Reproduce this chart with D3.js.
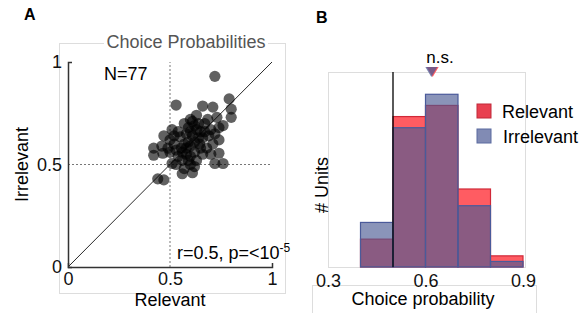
<!DOCTYPE html>
<html lang="en">
<head>
<meta charset="UTF-8">
<title>Choice Probabilities</title>
<script src="https://cdn.jsdelivr.net/npm/d3@7/dist/d3.min.js"></script>
<style>
body{margin:0;background:#fff}
svg text{font-family:"Liberation Sans",Arial,sans-serif}
</style>
</head>
<body>
<div id="grafica"></div>
<script>
// panel A: choice probability per unit (relevant, irrelevant)
relevant=[0.72,0.53,0.66,0.71,0.79,0.80,0.80,0.76,0.73,0.685,0.63,0.60,0.51,0.47,0.46,0.42,0.42,0.465,0.44,0.47,
	0.56,0.61,0.70,0.74,0.72,0.76,0.74,0.74,0.51,0.50,0.55,0.555,0.60,0.67,0.645,0.66,0.57,0.59,0.60,0.58,
	0.62,0.61,0.63,0.64,0.65,0.62,0.59,0.57,0.56,0.58,0.60,0.62,0.59,0.56,0.54,0.53,0.52,0.63,0.57,0.62,
	0.68,0.66,0.69,0.70,0.72,0.67,0.54,0.52,0.49,0.50,0.53,0.64,0.61,0.58,0.65,0.71,0.60]
irrelevant=[0.93,0.79,0.785,0.78,0.82,0.77,0.73,0.69,0.73,0.72,0.74,0.72,0.67,0.64,0.59,0.58,0.545,0.555,0.43,0.425,
	0.455,0.46,0.55,0.555,0.505,0.505,0.62,0.68,0.505,0.62,0.635,0.58,0.50,0.66,0.60,0.63,0.70,0.68,0.66,0.65,
	0.69,0.64,0.67,0.70,0.66,0.61,0.61,0.60,0.56,0.55,0.54,0.56,0.52,0.52,0.54,0.57,0.60,0.52,0.48,0.49,
	0.58,0.55,0.64,0.67,0.65,0.70,0.66,0.64,0.58,0.56,0.50,0.63,0.71,0.58,0.58,0.60,0.59]

// panel B: histogram
binEdges=[0.3,0.4,0.5,0.6,0.7,0.8,0.9]
countRel=[0,5,27,29,14,2]
countIrr=[0,8,25,31,11,1]
meanRel=0.622
meanIrr=0.618

W=581,H=313
svg=d3.select('#grafica').append('svg').attr('width',W).attr('height',H)

// ---------- panel A ----------
xA=d3.scaleLinear().domain([0,1]).range([68,272])
yA=d3.scaleLinear().domain([0,1]).range([267,62])
fmt=function(d){return d==0.5?'0.5':d3.format('d')(d)}

svg.append('rect').attr('x',59.5).attr('y',43.5).attr('width',226).attr('height',250)
	.attr('fill','none').attr('stroke','#ddd')
svg.append('text').attr('x',24).attr('y',20).attr('font-size',16).attr('font-weight','bold').text('A')
svg.append('rect').attr('x',104).attr('y',34).attr('width',164).attr('height',18).attr('fill','#fff')
svg.append('text').attr('x',186).attr('y',48).attr('text-anchor','middle').attr('font-size',18)
	.attr('fill','#555').text('Choice Probabilities')

// reference lines
svg.append('line').attr('x1',xA(0.5)).attr('x2',xA(0.5)).attr('y1',yA(0)).attr('y2',yA(1))
	.attr('stroke','#777').attr('stroke-dasharray','2,2')
svg.append('line').attr('x1',xA(0)).attr('x2',xA(1)).attr('y1',yA(0.5)).attr('y2',yA(0.5))
	.attr('stroke','#777').attr('stroke-dasharray','2,2')
svg.append('line').attr('x1',xA(0)).attr('x2',xA(1)).attr('y1',yA(0)).attr('y2',yA(1))
	.attr('stroke','#111').attr('stroke-width',0.9)

gx=svg.append('g').attr('transform','translate(0,'+yA(0)+')')
	.call(d3.axisBottom(xA).tickValues([0,0.5,1]).tickFormat(fmt).tickSize(0).tickPadding(5).tickSizeOuter(-4))
gy=svg.append('g').attr('transform','translate('+xA(0)+',0)')
	.call(d3.axisLeft(yA).tickValues([0,0.5,1]).tickFormat(fmt).tickSize(0).tickPadding(6).tickSizeOuter(-4))
svg.selectAll('.domain').attr('stroke','#333').attr('stroke-width',1.5)
gx.selectAll('text').attr('font-size',18).attr('fill','#111').attr('font-family','Liberation Sans, Arial')
gy.selectAll('text').attr('font-size',18).attr('fill','#111').attr('font-family','Liberation Sans, Arial')

svg.append('text').attr('x',xA(0.5)).attr('y',306).attr('text-anchor','middle').attr('font-size',18).text('Relevant')
svg.append('text').attr('transform','translate(28,'+yA(0.5)+') rotate(-90)').attr('text-anchor','middle')
	.attr('font-size',18).text('Irrelevant')

svg.append('g').selectAll('circle').data(relevant).enter().append('circle')
	.attr('cx',function(d){return xA(d)})
	.attr('cy',function(d,i){return yA(irrelevant[i])})
	.attr('r',5.6).attr('fill','#000').attr('fill-opacity',0.62)

svg.append('text').attr('x',104).attr('y',80).attr('font-size',18).text('N=77')
t=svg.append('text').attr('x',177).attr('y',259).attr('font-size',18)
t.append('tspan').text('r=0.5, p=<10')
t.append('tspan').attr('dy',-7).attr('font-size',12).text('-5')

// ---------- panel B ----------
xB=d3.scaleLinear().domain([0.3,0.9]).range([328,523])
yB=d3.scaleLinear().domain([0,35]).range([267,72])

svg.append('text').attr('x',316).attr('y',23).attr('font-size',16).attr('font-weight','bold').text('B')
svg.append('rect').attr('x',328.5).attr('y',72.5).attr('width',197).attr('height',195)
	.attr('fill','none').attr('stroke','#ddd')
svg.append('rect').attr('x',312.5).attr('y',285.5).attr('width',224).attr('height',30)
	.attr('fill','none').attr('stroke','#ddd')

bins=d3.range(countRel.length).map(function(i){
	return {x0:binEdges[i],x1:binEdges[i+1],rel:countRel[i],irr:countIrr[i]}
})
svg.append('g').selectAll('rect').data(bins).enter().append('rect')
	.attr('x',function(d){return xB(d.x0)})
	.attr('width',function(d){return xB(d.x1)-xB(d.x0)})
	.attr('y',function(d){return yB(d.rel)})
	.attr('height',function(d){return yB(0)-yB(d.rel)})
	.attr('fill','#ff5c62').attr('stroke','#d02838').attr('stroke-width',1.2)
svg.append('g').selectAll('rect').data(bins).enter().append('rect')
	.attr('x',function(d){return xB(d.x0)})
	.attr('width',function(d){return xB(d.x1)-xB(d.x0)})
	.attr('y',function(d){return yB(d.irr)})
	.attr('height',function(d){return yB(0)-yB(d.irr)})
	.attr('fill','#4c5a94').attr('fill-opacity',0.65).attr('stroke','#4a5a9a').attr('stroke-width',1.2)

svg.append('line').attr('x1',xB(0.5)).attr('x2',xB(0.5)).attr('y1',yB(0)).attr('y2',yB(35))
	.attr('stroke','#000').attr('stroke-width',1.3)

// mean markers
tri=function(v){var c=xB(v);return 'M'+(c-6)+',67 L'+(c+6)+',67 L'+c+',77 Z'}
svg.append('path').attr('d',tri(meanRel)).attr('fill','#ff5c62')
svg.append('path').attr('d',tri(meanIrr)).attr('fill','#4c5a94').attr('fill-opacity',0.75)
svg.append('text').attr('x',440).attr('y',63).attr('text-anchor','middle').attr('font-size',17).text('n.s.')

gxb=svg.append('g').attr('transform','translate(0,'+yB(0)+')')
	.call(d3.axisBottom(xB).tickValues([0.3,0.6,0.9]).tickFormat(d3.format('.1f')).tickSize(0).tickPadding(7))
gxb.select('.domain').remove()
gxb.selectAll('text').attr('font-size',18).attr('fill','#111').attr('font-family','Liberation Sans, Arial')
svg.append('text').attr('x',423).attr('y',305).attr('text-anchor','middle').attr('font-size',18).text('Choice probability')
svg.append('text').attr('transform','translate(328,185) rotate(-90)').attr('text-anchor','middle')
	.attr('font-size',18).text('# Units')

// legend
leg=[{name:'Relevant',fill:'#e84050',stroke:'#c02838',op:1,x:502,y:118},
	{name:'Irrelevant',fill:'#4c5a94',stroke:'#5a6aa0',op:0.7,x:503,y:143}]
lg=svg.append('g').selectAll('g').data(leg).enter().append('g')
lg.append('rect').attr('x',477).attr('y',function(d){return d.y-14}).attr('width',14).attr('height',14)
	.attr('fill',function(d){return d.fill}).attr('fill-opacity',function(d){return d.op})
	.attr('stroke',function(d){return d.stroke})
lg.append('text').attr('x',function(d){return d.x}).attr('y',function(d){return d.y})
	.attr('font-size',18).text(function(d){return d.name})
</script>
</body>
</html>
